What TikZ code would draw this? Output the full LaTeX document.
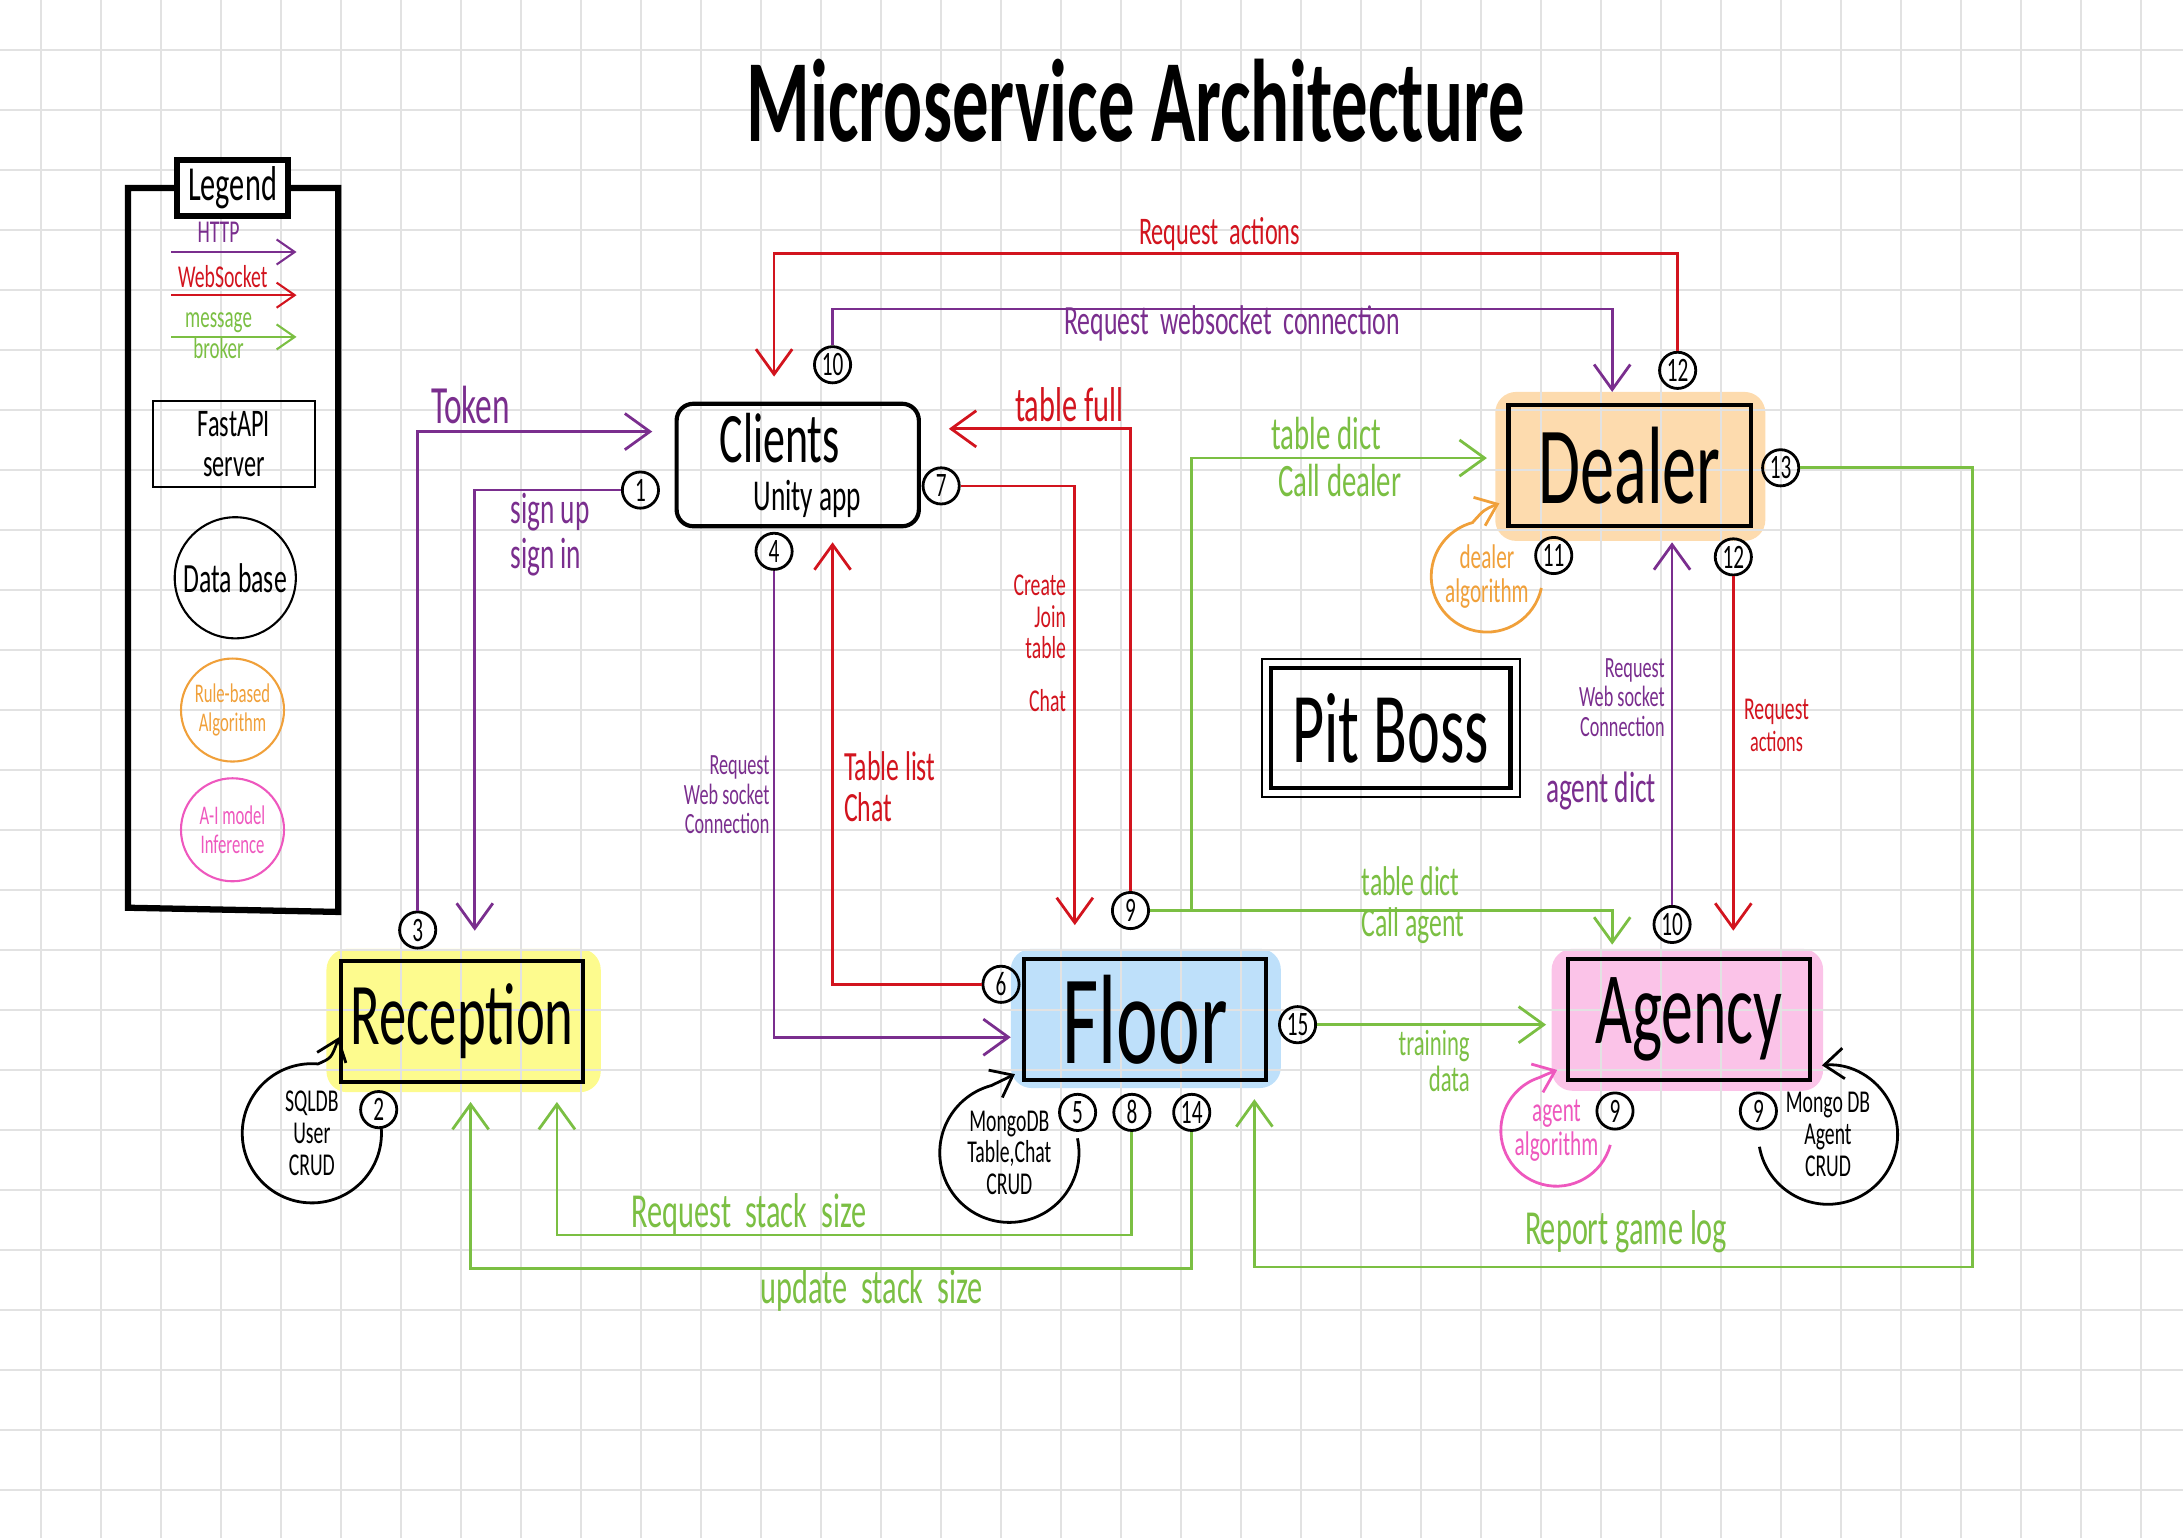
\documentclass[tikz,border=0pt]{standalone}
\usepackage{fontspec}
\setmainfont[FakeStretch=0.62]{Carlito}
\usetikzlibrary{arrows.meta, backgrounds}

\def\setfs#1#2{\fontsize{#1}{#2}\selectfont}

\begin{document}
\begin{tikzpicture}[x=0.2mm, y=-0.2mm,
    every node/.style={inner sep=0pt},
    link/.style={line width=0.4mm, -{Straight Barb[length=3.6mm,width=5.2mm]}},
    http/.style={link, draw=httpColour},
    ws/.style={link, draw=wsColour},
    mb/.style={link, draw=mbColour},
    sample/.style={line width=0.3mm, -{Straight Barb[length=2.6mm,width=3.6mm]}},
    service/.style={draw=black, line width=0.6mm, minimum width=34.8mm, minimum height=17.4mm},
    num/.style={circle, draw=black, line width=0.4mm, minimum size=5.2mm, font=\setfs{14}{14}},
    loopline/.style={line width=0.4mm, -{Straight Barb[length=2.8mm,width=4.4mm]}},
    gridline/.style={draw=gridColour, line width=0.25mm}
]
    \definecolor{gridColour}{HTML}{E2E2E2}
    \definecolor{httpColour}{HTML}{7A2E8E}
    \definecolor{wsColour}{HTML}{D2141E}
    \definecolor{mbColour}{HTML}{7BBF43}
    \definecolor{algoColour}{HTML}{F0A03A}
    \definecolor{aiColour}{HTML}{EE58BE}
    \definecolor{receptionFill}{HTML}{FDFB8E}
    \definecolor{floorFill}{HTML}{BEE0FA}
    \definecolor{dealerFill}{HTML}{FDDBAE}
    \definecolor{agencyFill}{HTML}{FBC3E8}

    \useasboundingbox (0,0) rectangle (1568,1105);

    % Draw grid
    \foreach \i in {0,...,35}
        \draw[gridline] ({29.4+43.1*\i},0) -- ({29.4+43.1*\i},1105);
    \foreach \j in {0,...,24}
        \draw[gridline] (0,{35.9+43.1*\j}) -- (1568,{35.9+43.1*\j});

    % Title
    \node[font=\setfs{48}{48}\bfseries] (title) at (816,72) {Microservice Architecture};

    % Legend
    \node[draw, line width=0.8mm, fill=white, minimum width=16mm, minimum height=8mm, font=\setfs{20}{20}] (legend) at (167,135) {Legend};
    \coordinate (legendBL) at (92,652);
    \coordinate (legendBR) at (243,655);
    \draw[line width=0.9mm] (legend.west) -| (legendBL) -- (legendBR) |- (legend.east);

    \node[text=httpColour, font=\setfs{13}{13}] (lgHttp) at (157,167) {HTTP};
    \node[text=wsColour, font=\setfs{13}{13}] (lgWs) at (160,199) {WebSocket};
    \node[text=mbColour, font=\setfs{12.5}{12.5}, align=center] (lgMb) at (157,241) {message\\broker};
    \coordinate (httpL) at (123,181);
    \coordinate (httpR) at (213,181);
    \coordinate (wsL) at (123,212);
    \coordinate (wsR) at (213,212);
    \coordinate (mbL) at (123,242);
    \coordinate (mbR) at (213,242);
    \draw[sample, draw=httpColour] (httpL) -- (httpR);
    \draw[sample, draw=wsColour] (wsL) -- (wsR);
    \draw[sample, draw=mbColour] (mbL) -- (mbR);

    \node[draw, line width=0.3mm, minimum width=23.2mm, minimum height=12.4mm, align=center, font=\setfs{16}{16}] (lgServer) at (168,319) {FastAPI\\server};
    \node[circle, draw, line width=0.3mm, minimum size=17.4mm, font=\setfs{17}{17}] (lgDb) at (169,415) {Data base};
    \node[circle, draw=algoColour, text=algoColour, line width=0.3mm, minimum size=14.8mm, align=center, font=\setfs{11}{12}] (lgRule) at (167,510) {Rule-based\\Algorithm};
    \node[circle, draw=aiColour, text=aiColour, line width=0.3mm, minimum size=14.8mm, align=center, font=\setfs{11}{12}] (lgAi) at (167,596) {A-I model\\Inference};

    % Services
    \node[service, rounded corners=2.4mm, minimum height=17.6mm] (clients) at (573,334) {};
    \node[font=\setfs{29}{29}] (clientsName) at (560,315) {Clients};
    \node[font=\setfs{18}{18}] (clientsApp) at (580,358) {Unity app};
    \node[service, font=\setfs{36}{36}] (reception) at (332,733.5) {Reception};
    \node[service, font=\setfs{52}{52}] (floor) at (822.5,732.5) {Floor};
    \node[service, font=\setfs{45}{45}] (dealer) at (1170.5,334.5) {Dealer};
    \node[service, font=\setfs{42}{42}] (agency) at (1213,732.5) {Agency};
    \node[draw, line width=0.6mm, minimum width=34.4mm, minimum height=17.2mm, font=\setfs{41}{41}] (pitBoss) at (999,523) {Pit Boss};
    \draw[line width=0.3mm] ([shift={(-5,-5)}]pitBoss.north west) rectangle ([shift={(5,5)}]pitBoss.south east);

    % Highlights
    \begin{scope}[on background layer]
        \fill[receptionFill, rounded corners=3mm] ([shift={(-9,-7)}]reception.north west) rectangle ([shift={(11,6)}]reception.south east);
        \fill[floorFill, rounded corners=3mm] ([shift={(-8,-6)}]floor.north west) rectangle ([shift={(9,4)}]floor.south east);
        \fill[dealerFill, rounded corners=3mm] ([shift={(-8,-8)}]dealer.north west) rectangle ([shift={(9,9)}]dealer.south east);
        \fill[agencyFill, rounded corners=3mm] ([shift={(-10,-6)}]agency.north west) rectangle ([shift={(8,6)}]agency.south east);
    \end{scope}

    % Numbered steps
    \node[num] (n1) at (460,352) {1};
    \node[num] (n2) at (272,797) {2};
    \node[num] (n3) at (300,668) {3};
    \node[num] (n4) at (556,396) {4};
    \node[num] (n5) at (774,799) {5};
    \node[num] (n6) at (719,707) {6};
    \node[num] (n7) at (676,349) {7};
    \node[num] (n8) at (813,799) {8};
    \node[num] (n9f) at (812,654) {9};
    \node[num] (n9a) at (1160,798) {9};
    \node[num] (n9b) at (1263,798) {9};
    \node[num] (n10c) at (598,262) {10};
    \node[num] (n10a) at (1201,664) {10};
    \node[num] (n11) at (1116,399) {11};
    \node[num] (n12a) at (1205,266) {12};
    \node[num] (n12b) at (1245,400) {12};
    \node[num] (n13) at (1279,336) {13};
    \node[num] (n14) at (856,799) {14};
    \node[num] (n15) at (932,736) {15};

    % Bend points
    \coordinate (actTop) at (1205,182);
    \coordinate (wsTop) at (598,222);
    \coordinate (dictTurn) at (856,654);
    \coordinate (logA) at (1417,336);
    \coordinate (logB) at (1417,910);
    \coordinate (reqTurn) at (813,887);
    \coordinate (updTurn) at (856,911);

    % HTTP
    \draw[http, shorten >=3.2mm] (n3) |- ([yshift=4.8mm]clients.west);
    \draw[http, shorten >=4mm] (n1) -| ([xshift=1.8mm]reception.north);
    \draw[http, shorten >=1.6mm] (n4) |- ([yshift=-2.5mm]floor.west);
    \draw[http, shorten >=1.6mm] (n10c) -- (wsTop) -| ([xshift=-2.5mm]dealer.north);
    \draw[http, shorten >=2mm] (n10a) -- (n10a |- dealer.south);

    % WebSocket
    \draw[ws, shorten >=2mm] (n6) -| ([xshift=5mm]clients.south);
    \draw[ws, shorten >=4.6mm] (n7) -| ([xshift=-10.1mm]floor.north);
    \draw[ws, shorten >=4mm] (n9f) |- ([yshift=5.2mm]clients.east);
    \draw[ws, shorten >=3.6mm] (n12a) -- (actTop) -| ([xshift=-3.4mm]clients.north);
    \draw[ws, shorten >=3.8mm] (n12b) -- (n12b |- agency.north);

    % Message broker
    \draw[mb, shorten >=2.8mm] (n9f) -- (dictTurn) |- ([yshift=1.1mm]dealer.west);
    \draw[mb, shorten >=1.8mm] (n9f) -| ([xshift=-11mm]agency.north);
    \draw[mb, shorten >=2.4mm] (n13) -- (logA) -- (logB) -| ([xshift=15.7mm]floor.south);
    \draw[mb, shorten >=2.8mm] (n15) -- (agency.west |- n15);
    \draw[mb, shorten >=2.6mm] (n8) -- (reqTurn) -| ([xshift=13.6mm]reception.south);
    \draw[mb, shorten >=2.6mm] (n14) -- (updTurn) -| ([xshift=1.2mm]reception.south);

    % Databases and algorithms
    \node[align=center, font=\setfs{13}{13}] (dbUser) at (224,814) {SQLDB\\User\\CRUD};
    \draw[loopline] (dbUser.center) ++(-5:50) arc[start angle=-5, end angle=275, radius=50] .. controls (238,760) .. ([yshift=-2.3mm]reception.west);
    \node[align=center, font=\setfs{13}{13}] (dbTable) at (725,828) {MongoDB\\Table,Chat\\CRUD};
    \draw[loopline] (dbTable.center) ++(-12:50) arc[start angle=-12, end angle=255, radius=50] .. controls (720,776) .. ([shift={(-5,-6)}]floor.south west);
    \node[align=center, font=\setfs{13}{13}] (dbAgent) at (1313,815) {Mongo DB\\Agent\\CRUD};
    \draw[loopline] (dbAgent.center) ++(170:50) arc[start angle=170, end angle=-95, radius=50];
    \node[align=center, text=algoColour, font=\setfs{14}{14}] (dealerAlgo) at (1068,414) {dealer\\algorithm};
    \draw[loopline, draw=algoColour] (dealerAlgo.center) ++(12:40) arc[start angle=12, end angle=255, radius=40] .. controls (1066,366) .. ([shift={(-5,27)}]dealer.west);
    \node[align=center, text=aiColour, font=\setfs{14}{14}] (agentAlgo) at (1118,812) {agent\\algorithm};
    \draw[loopline, draw=aiColour] (agentAlgo.center) ++(15:40) arc[start angle=15, end angle=252, radius=40] .. controls (1110,772) .. ([shift={(-6,36)}]agency.west);

    % Labels
    \node[text=httpColour, font=\setfs{22}{22}] (tokenLbl) at (338,291) {Token};
    \node[text=httpColour, font=\setfs{18}{18.2}, align=left] (signLbl) at (395,384) {sign up\\sign in};
    \node[text=httpColour, font=\setfs{12}{12}, align=right, anchor=east] (wsFloorLbl) at (553,571) {Request\\Web socket\\Connection};
    \node[text=wsColour, font=\setfs{17}{17}, align=left, anchor=west] (tableListLbl) at (606,565) {Table list\\Chat};
    \node[text=wsColour, font=\setfs{13}{13}, align=right, anchor=east] (createLbl) at (766,462) {Create\\Join\\table\\[3mm]Chat};
    \node[text=wsColour, font=\setfs{20}{20}] (tableFullLbl) at (768,291) {table full};
    \node[text=wsColour, font=\setfs{16}{16}] (reqActLbl) at (876,168) {Request\ \ actions};
    \node[text=httpColour, font=\setfs{17}{17}] (reqWsLbl) at (885,232) {Request\ \ websocket\ \ connection};
    \node[text=mbColour, font=\setfs{19}{19.3}, align=left] (dictDealerLbl) at (960,328) {table dict\\\ Call dealer};
    \node[text=mbColour, font=\setfs{17}{17}, align=left] (dictAgentLbl) at (1015,650) {table dict\\Call agent};
    \node[text=httpColour, font=\setfs{12}{12}, align=right, anchor=east] (wsAgentLbl) at (1196,501) {Request\\Web socket\\Connection};
    \node[text=httpColour, font=\setfs{18}{18}] (agentDictLbl) at (1150,568) {agent dict};
    \node[text=wsColour, font=\setfs{13}{13}, align=center] (reqActAgentLbl) at (1276,521) {Request\\{\setfs{12}{12}actions}};
    \node[text=mbColour, font=\setfs{15}{15}, align=right, anchor=east] (trainLbl) at (1056,762) {training\\data};
    \node[text=mbColour, font=\setfs{20}{20}] (stackReqLbl) at (538,872) {Request\ \ stack\ \ size};
    \node[text=mbColour, font=\setfs{20}{20}] (stackUpdLbl) at (626,927) {update\ \ stack\ \ size};
    \node[text=mbColour, font=\setfs{20}{20}] (logLbl) at (1168,885) {Report game log};

\end{tikzpicture}
\end{document}
